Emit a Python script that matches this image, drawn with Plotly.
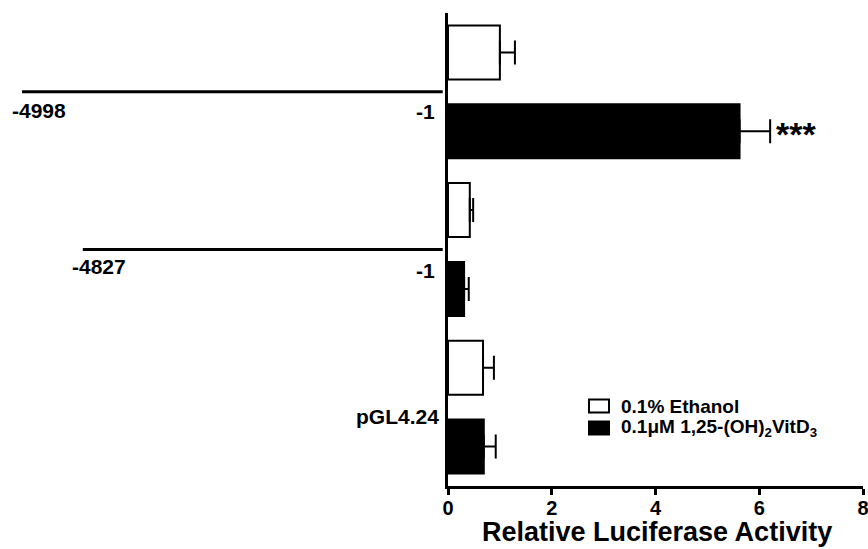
import plotly.graph_objects as go

# ---- data ----
constructs = ["-4998 / -1", "-4827 / -1", "pGL4.24"]
series_names = ["0.1% Ethanol", "0.1\u03bcM 1,25-(OH)<sub>2</sub>VitD<sub>3</sub>"]
series_fill = ["white", "black"]
ethanol_vals = [1.00, 0.42, 0.675]
ethanol_err = [0.29, 0.065, 0.21]
vitd_vals = [5.62, 0.31, 0.69]
vitd_err = [0.59, 0.09, 0.23]
x_ticks = [0, 2, 4, 6, 8]
x_title = "Relative Luciferase Activity"
significance = ["***", "", ""]

# plot area in pixels
W, H = 868, 549
L, R, T, B = 448, 5, 13, 63
pw = W - L - R
ph = H - T - B


def px(xp):
    return (xp - L) / pw


def py(yp):
    return (H - B - yp) / ph


def b(s):
    return "<b>" + s + "</b>"


FONT = "Liberation Sans, Arial, sans-serif"

eth_y = [2 * i for i in range(len(constructs))]
vit_y = [2 * i + 1 for i in range(len(constructs))]

fig = go.Figure()
fig.add_trace(go.Bar(
    name=series_names[0], orientation="h", x=ethanol_vals, y=eth_y, width=0.685,
    marker=dict(color=series_fill[0], line=dict(color="black", width=2)),
    error_x=dict(type="data", array=ethanol_err, arrayminus=[0] * 3, symmetric=False,
                 color="black", thickness=2, width=12),
    showlegend=False,
))
fig.add_trace(go.Bar(
    name=series_names[1], orientation="h", x=vitd_vals, y=vit_y, width=0.685,
    marker=dict(color=series_fill[1], line=dict(color="black", width=2)),
    error_x=dict(type="data", array=vitd_err, arrayminus=[0] * 3, symmetric=False,
                 color="black", thickness=2, width=12),
    showlegend=False,
))

annotations = []
shapes = []

# significance marks
for i, s in enumerate(significance):
    if s:
        annotations.append(dict(x=vitd_vals[i] + vitd_err[i], y=vit_y[i], xref="x", yref="y",
                                text=b(s), showarrow=False, xanchor="left", yanchor="middle",
                                xshift=4, yshift=-3,
                                font=dict(family=FONT, size=34, color="black")))

# construct diagrams (decorations on the left)
line_specs = [(-1.0265, 0.5), (-0.880, 2.5)]
for x0, yy in line_specs:
    shapes.append(dict(type="line", xref="paper", yref="y", x0=x0, x1=px(442.7), y0=yy, y1=yy,
                       line=dict(color="black", width=3)))

lab_font = dict(family=FONT, size=21, color="black")
starts = ["-4998", "-4827"]
start_x = [px(10), px(70)]
for k, (st, sx) in enumerate(zip(starts, start_x)):
    yy = 2 * k + 0.5
    annotations.append(dict(x=sx, y=yy, xref="paper", yref="y", text=b(st), showarrow=False,
                            xanchor="left", yanchor="middle", yshift=-19 if k == 0 else -17,
                            font=lab_font))
    annotations.append(dict(x=px(437), y=yy, xref="paper", yref="y", text=b("-1"), showarrow=False,
                            xanchor="right", yanchor="middle", yshift=-20 if k == 0 else -21,
                            font=lab_font))
annotations.append(dict(x=px(441), y=4.5, xref="paper", yref="y", text=b(constructs[2]),
                        showarrow=False, xanchor="right", yanchor="middle", yshift=-9,
                        font=lab_font))

# legend drawn by hand (swatch + label)
leg_rows = [406, 428]
for name, fill, yc in zip(series_names, series_fill, leg_rows):
    shapes.append(dict(type="rect", xref="paper", yref="paper",
                       x0=px(589), x1=px(609), y0=py(yc - 6.5), y1=py(yc + 6.5),
                       fillcolor=fill, line=dict(color="black", width=2)))
    annotations.append(dict(x=px(619), y=py(yc), xref="paper", yref="paper", text=b(name),
                            showarrow=False, xanchor="left", yanchor="middle",
                            font=dict(family=FONT, size=19, color="black")))

# x-axis title placed as an annotation so it stays where the reference has it
annotations.append(dict(x=px(657), y=py(549), xref="paper", yref="paper", text=b(x_title),
                        showarrow=False, xanchor="center", yanchor="bottom",
                        font=dict(family=FONT, size=27, color="black")))

fig.update_layout(
    width=W, height=H,
    margin=dict(l=L, r=R, t=T, b=B, pad=0),
    paper_bgcolor="white", plot_bgcolor="white",
    barmode="overlay",
    showlegend=False,
    xaxis=dict(range=[0, 8], tickvals=x_ticks, ticktext=[b(str(v)) for v in x_ticks],
               showline=True, linecolor="black", linewidth=3, showgrid=False, zeroline=False,
               ticks="outside", ticklen=6, tickwidth=3, tickcolor="black",
               tickfont=dict(family=FONT, size=20, color="black"),
               ticklabelstandoff=-4, ticklabeloverflow="allow", automargin=False),
    yaxis=dict(range=[5.5, -0.5], showline=True, linecolor="black", linewidth=3,
               showgrid=False, zeroline=False, showticklabels=False, ticks="",
               automargin=False),
    shapes=shapes,
    annotations=annotations,
)

fig.write_html("out.html")
